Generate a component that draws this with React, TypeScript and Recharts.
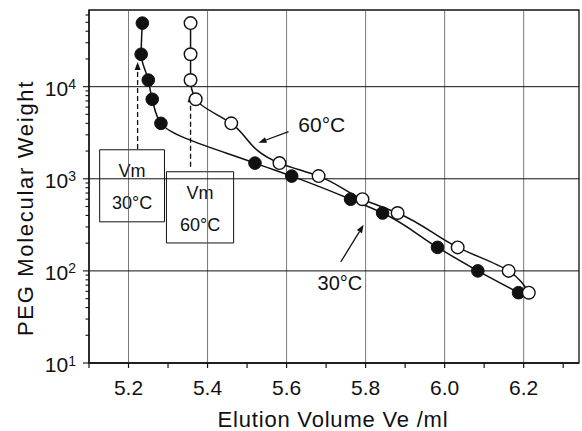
import React from "react";
import {
  ComposedChart,
  Line,
  XAxis,
  YAxis,
  ReferenceLine,
  ReferenceArea,
  ReferenceDot,
} from "recharts";

// PEG standards (same molecular weights for both temperatures)
const molWeight = [49000, 22500, 11800, 7300, 4000, 1480, 1070, 600, 425, 180, 100, 58];
const ve30 = [5.235, 5.232, 5.25, 5.26, 5.282, 5.52, 5.613, 5.762, 5.843, 5.982, 6.084, 6.187];
const ve60 = [5.357, 5.357, 5.357, 5.37, 5.46, 5.582, 5.681, 5.792, 5.881, 6.033, 6.162, 6.213];

const xTicks = [5.1, 5.2, 5.3, 5.4, 5.5, 5.6, 5.7, 5.8, 5.9, 6.0, 6.1, 6.2, 6.3];
const xLabelTicks = [5.2, 5.4, 5.6, 5.8, 6.0, 6.2];
const yDecades = [10, 100, 1000, 10000];
const yMinor = [1, 2, 3, 4, 5, 6, 7, 8, 9];

const X_DOMAIN = [5.1, 6.34];
const Y_DOMAIN = [10, 68000];

const data30 = ve30.map((ve, i) => ({ ve, mw: molWeight[i] }));
const data60 = ve60.map((ve, i) => ({ ve, mw: molWeight[i] }));

const yTicks: number[] = [];
yDecades.forEach((d) => yMinor.forEach((m) => (m * d <= Y_DOMAIN[1] ? yTicks.push(m * d) : null)));

const FONT = "'Liberation Sans', Arial, sans-serif";
const INK = "#111";

const XTick = (props: any) => {
  const { x, y, payload } = props;
  const v = payload.value;
  const labeled = xLabelTicks.some((t) => Math.abs(t - v) < 1e-6);
  return (
    <g>
      <line x1={x} y1={y} x2={x} y2={y + 5} stroke={INK} strokeWidth={1.2} />
      {labeled && (
        <text x={x} y={y + 32} textAnchor="middle" fontSize={21} fontFamily={FONT} fill={INK}>
          {v.toFixed(1)}
        </text>
      )}
    </g>
  );
};

const YTick = (props: any) => {
  const { x, y, payload } = props;
  const v = payload.value;
  const e = Math.log10(v);
  const major = Math.abs(e - Math.round(e)) < 1e-6;
  return (
    <g>
      <line x1={x - (major ? 6 : 3.5)} y1={y} x2={x} y2={y} stroke={INK} strokeWidth={1.1} />
      {major && (
        <text x={x - 13} y={y + 9} textAnchor="end" fontSize={21} fontFamily={FONT} fill={INK}>
          <tspan>10</tspan>
          <tspan fontSize={14} dy={-6.5}>
            {Math.round(e)}
          </tspan>
        </text>
      )}
    </g>
  );
};

const arrow = (dashed: boolean) => (p: any) => {
  const { x1, y1, x2, y2 } = p;
  const a = Math.atan2(y2 - y1, x2 - x1);
  const L = 8;
  const W = 3;
  const bx = x2 - L * Math.cos(a);
  const by = y2 - L * Math.sin(a);
  const pts = [
    [x2, y2],
    [bx + W * Math.sin(a), by - W * Math.cos(a)],
    [bx - W * Math.sin(a), by + W * Math.cos(a)],
  ]
    .map((q) => q.join(","))
    .join(" ");
  return (
    <g>
      <line
        x1={x1}
        y1={y1}
        x2={bx}
        y2={by}
        stroke={INK}
        strokeWidth={1.3}
        strokeDasharray={dashed ? "5 3" : undefined}
      />
      <polygon points={pts} fill={INK} />
    </g>
  );
};

const boxLabel = (temp: string) => (props: any) => {
  const vb = props.viewBox;
  const cx = vb.x + vb.width / 2;
  return (
    <g fontFamily={FONT} fill={INK} fontSize={18}>
      <text x={cx} y={vb.y + 27} textAnchor="middle">
        Vm
      </text>
      <text x={cx} y={vb.y + 59} textAnchor="middle">
        {temp}
      </text>
    </g>
  );
};

const textMark = (txt: string, size: number) => (p: any) => (
  <text x={p.cx} y={p.cy + size * 0.36} textAnchor="middle" fontSize={size} fontFamily={FONT} fill={INK}>
    {txt}
  </text>
);

export default function App() {
  return (
    <div
      style={{
        position: "fixed",
        top: 0,
        left: 0,
        width: 582,
        height: 431,
        overflow: "hidden",
        background: "#fff",
      }}
    >
      <ComposedChart width={582} height={431} margin={{ top: 10, right: 3, left: 0, bottom: 0 }}>
        <XAxis
          dataKey="ve"
          type="number"
          domain={X_DOMAIN}
          ticks={xTicks}
          allowDataOverflow
          height={68}
          tickSize={0}
          tickMargin={0}
          tickLine={false}
          axisLine={{ stroke: INK, strokeWidth: 1.3 }}
          tick={<XTick />}
          interval={0}
          label={{
            content: () => (
              <text
                x={333}
                y={427}
                textAnchor="middle"
                fontSize={22}
                letterSpacing={0.8}
                fontFamily={FONT}
                fill={INK}
              >
                Elution Volume Ve /ml
              </text>
            ),
          }}
        />
        <YAxis
          dataKey="mw"
          type="number"
          scale="log"
          domain={Y_DOMAIN}
          ticks={yTicks}
          allowDataOverflow
          width={89}
          tickSize={0}
          tickMargin={0}
          tickLine={false}
          axisLine={{ stroke: INK, strokeWidth: 1.3 }}
          tick={<YTick />}
          interval={0}
          label={{
            content: () => (
              <text
                x={33}
                y={208}
                transform="rotate(-90 33 208)"
                textAnchor="middle"
                fontSize={22}
                letterSpacing={1.7}
                fontFamily={FONT}
                fill={INK}
              >
                PEG Molecular Weight
              </text>
            ),
          }}
        />
        {xLabelTicks.map((v) => (
          <ReferenceLine key={`gx${v}`} x={v} stroke="#555" strokeWidth={0.8} />
        ))}
        {[100, 1000, 10000].map((v) => (
          <ReferenceLine key={`gy${v}`} y={v} stroke={INK} strokeWidth={1} />
        ))}
        <ReferenceArea
          x1={X_DOMAIN[0]}
          x2={X_DOMAIN[1]}
          y1={Y_DOMAIN[0]}
          y2={Y_DOMAIN[1]}
          fill="none"
          stroke={INK}
          strokeWidth={1.3}
        />
        <ReferenceArea
          x1={5.127}
          x2={5.291}
          y1={341}
          y2={2065}
          fill="#fff"
          fillOpacity={1}
          stroke={INK}
          strokeWidth={1}
          label={boxLabel("30°C")}
        />
        <ReferenceArea
          x1={5.296}
          x2={5.466}
          y1={201}
          y2={1192}
          fill="#fff"
          fillOpacity={1}
          stroke={INK}
          strokeWidth={1}
          label={boxLabel("60°C")}
        />
        <ReferenceLine
          segment={[
            { x: 5.223, y: 2100 },
            { x: 5.223, y: 18500 },
          ]}
          shape={arrow(true)}
        />
        <ReferenceLine
          segment={[
            { x: 5.357, y: 1350 },
            { x: 5.357, y: 8300 },
          ]}
          shape={arrow(true)}
        />
        <ReferenceLine
          segment={[
            { x: 5.605, y: 3245 },
            { x: 5.529, y: 2460 },
          ]}
          shape={arrow(false)}
        />
        <ReferenceLine
          segment={[
            { x: 5.737, y: 125 },
            { x: 5.795, y: 316 },
          ]}
          shape={arrow(false)}
        />
        <ReferenceDot x={5.689} y={3865} r={0} shape={textMark("60°C", 21)} />
        <ReferenceDot x={5.735} y={74} r={0} shape={textMark("30°C", 20)} />
        <Line
          data={data30}
          dataKey="mw"
          type="monotoneY"
          stroke={INK}
          strokeWidth={1.5}
          dot={{ r: 6.3, fill: INK, stroke: INK, strokeWidth: 1 }}
          isAnimationActive={false}
        />
        <Line
          data={data60}
          dataKey="mw"
          type="monotoneY"
          stroke={INK}
          strokeWidth={1.5}
          dot={{ r: 6.3, fill: "#fff", stroke: INK, strokeWidth: 1.4 }}
          isAnimationActive={false}
        />
      </ComposedChart>
    </div>
  );
}
